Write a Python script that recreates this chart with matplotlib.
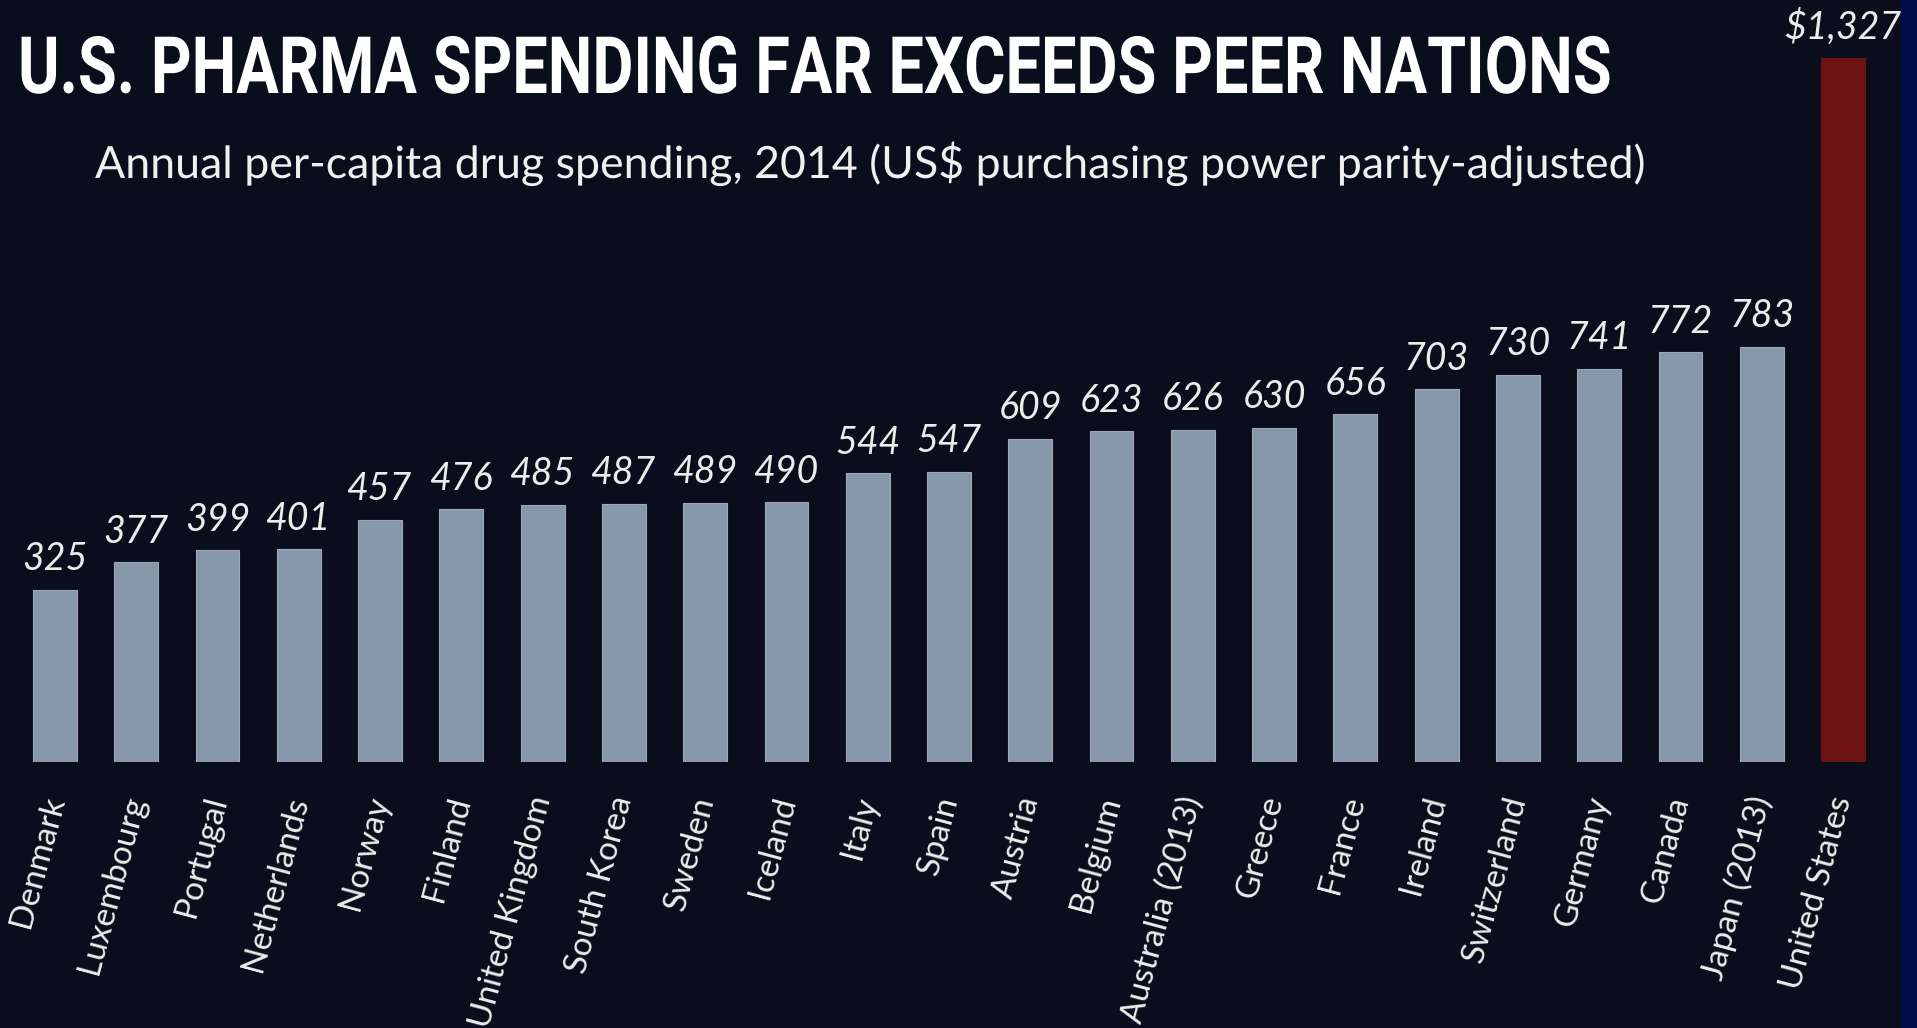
import matplotlib
matplotlib.use("Agg")
import matplotlib.pyplot as plt
from matplotlib.patheffects import AbstractPathEffect
from matplotlib.transforms import Affine2D
from matplotlib.patches import Rectangle

# ---- data -------------------------------------------------------------
countries = [
    "Denmark", "Luxembourg", "Portugal", "Netherlands", "Norway", "Finland",
    "United Kingdom", "South Korea", "Sweden", "Iceland", "Italy", "Spain",
    "Austria", "Belgium", "Australia (2013)", "Greece", "France", "Ireland",
    "Switzerland", "Germany", "Canada", "Japan (2013)", "United States",
]
spending = [
    325, 377, 399, 401, 457, 476, 485, 487, 489, 490, 544, 547,
    609, 623, 626, 630, 656, 703, 730, 741, 772, 783, 1327,
]
highlight = "United States"

title = "U.S. PHARMA SPENDING FAR EXCEEDS PEER NATIONS"
subtitle = "Annual per-capita drug spending, 2014 (US$ purchasing power parity-adjusted)"

# ---- style --------------------------------------------------------------
W, H, DPI = 1917, 1028, 100
BG = "#0a0e1c"
STRIP = "#020c46"
BAR = "#8798ab"
BAR_EDGE = "#9aa8b8"
US_BAR = "#6e1313"
TEXT = "#ececec"


class Stretch(AbstractPathEffect):
    """Scale a text path about a fixed anchor point (display pixels)."""

    def __init__(self, sx, sy, x0, y0):
        super().__init__()
        self.sx, self.sy = sx, sy
        self.x0, self.y0 = x0, y0

    def draw_path(self, renderer, gc, tpath, affine, rgbFace=None):
        t = affine + (Affine2D().translate(-self.x0, -self.y0)
                      .scale(self.sx, self.sy)
                      .translate(self.x0, self.y0))
        renderer.draw_path(gc, tpath, t, rgbFace)


fig = plt.figure(figsize=(W / DPI, H / DPI), dpi=DPI, facecolor=BG)

# navy strip along the right edge
fig.add_artist(Rectangle((1901 / W, 0), 16 / W, 1, transform=fig.transFigure,
                         color=STRIP, zorder=0))

# plot area: baseline 762 px from top, first/last bar centres at 55/1843 px
base_px = 762
first_c, last_c = 55, 1843
step = (last_c - first_c) / (len(countries) - 1)
px_per_unit = (base_px - 58) / 1327

ax = fig.add_axes([0, (H - base_px) / H, 1, base_px / H])
ax.set_facecolor("none")
ax.set_xlim(-first_c / step, (W - first_c) / step)
ax.set_ylim(0, base_px / px_per_unit)

x = list(range(len(countries)))
colors = [US_BAR if c == highlight else BAR for c in countries]
edges = [US_BAR if c == highlight else BAR_EDGE for c in countries]
ax.bar(x, spending, width=0.54, color=colors, edgecolor=edges, linewidth=0.8)

for i, (c, v) in enumerate(zip(countries, spending)):
    label = f"${v:,}" if c == highlight else f"{v:,}"
    ax.annotate(label, (i, v), xytext=(0, 14), textcoords="offset points",
                ha="center", va="baseline", fontsize=27, style="italic",
                family="Lato", color=TEXT)

ax.set_xticks(x)
ax.set_xticklabels(countries, rotation=75, ha="right", va="center",
                   rotation_mode="anchor", fontsize=24, family="Lato",
                   color=TEXT)
ax.tick_params(axis="x", length=0, pad=25)
ax.set_yticks([])
for s in ax.spines.values():
    s.set_visible(False)

# headings: (text, left px, right px, baseline px from top, size for height)
headings = [
    (title, 18, 1613, 93, 57, dict(weight="bold", family="Roboto", color="white")),
    (subtitle, 95, 1645, 178, 32, dict(weight="normal", family="Lato", color="#f0f0f0")),
]
fig.canvas.draw()
renderer = fig.canvas.get_renderer()
for s, left, right, base, fs, kw in headings:
    probe = fig.text(0, 0, s, fontsize=fs, **kw)
    w0 = probe.get_window_extent(renderer).width
    probe.remove()
    fs_fit = fs * (right - left) / w0
    t = fig.text(left / W, 1 - base / H, s, ha="left", va="baseline",
                 fontsize=fs_fit, **kw)
    fig.canvas.draw()
    w1 = t.get_window_extent(renderer).width
    t.set_path_effects([Stretch((right - left) / w1, fs / fs_fit, left, H - base)])

fig.savefig("out.png", dpi=DPI, facecolor=BG)
